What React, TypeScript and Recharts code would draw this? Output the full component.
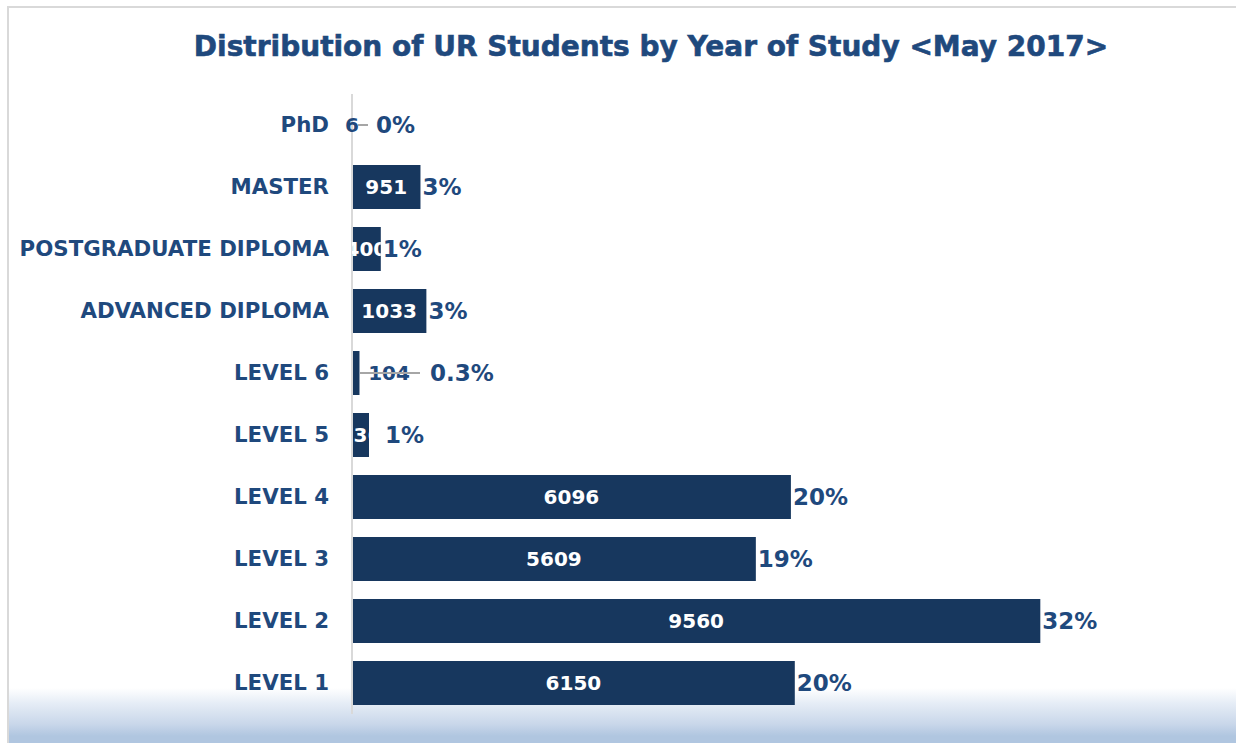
import React from "react";
import { BarChart, Bar, XAxis, YAxis, LabelList } from "recharts";

const categories = ["PhD", "MASTER", "POSTGRADUATE DIPLOMA", "ADVANCED DIPLOMA", "LEVEL 6", "LEVEL 5", "LEVEL 4", "LEVEL 3", "LEVEL 2", "LEVEL 1"];
const students = [6, 951, 400, 1033, 104, 236, 6096, 5609, 9560, 6150];
const shares = ["0%", "3%", "1%", "3%", "0.3%", "1%", "20%", "19%", "32%", "20%"];

const data = categories.map((name, i) => ({ name, students: students[i], share: shares[i] }));

const TEXT = "#1F497D";
const BAR = "#17375E";
const FONT = "'DejaVu Sans', 'Liberation Sans', Arial, sans-serif";

// manual label placements (layout only)
const valueLayout: Record<string, { dx: number; lead: [number, number] }> = {
  PhD: { dx: 0, lead: [6, 16] },
  "LEVEL 6": { dx: 37, lead: [8, 68] },
};
const shareLayout: Record<string, number> = { PhD: 24, "LEVEL 6": 78, "LEVEL 5": 33 };

const Tick = (props: any) => {
  const { x, y, payload } = props;
  return (
    <text x={x - 15} y={y} dy={7} textAnchor="end" fill={TEXT} fontFamily={FONT} fontWeight="bold" fontSize={21.3}>
      {payload.value}
    </text>
  );
};

const ValueLabel = (props: any) => {
  const { x, y, width, height, value, index } = props;
  const name = categories[index];
  const cy = y + height / 2;
  const moved = valueLayout[name];
  if (moved) {
    return (
      <g>
        <text x={x + moved.dx} y={cy} dy={7} textAnchor="middle" fill={TEXT} fontFamily={FONT} fontWeight="bold" fontSize={20}>
          {value}
        </text>
        <line x1={x + moved.lead[0]} x2={x + moved.lead[1]} y1={cy} y2={cy} stroke="#a6a6a6" strokeWidth={2} />
      </g>
    );
  }
  const id = `clip-bar-${index}`;
  return (
    <g>
      <defs>
        <clipPath id={id}>
          <rect x={x} y={y} width={width} height={height} />
        </clipPath>
      </defs>
      <text clipPath={`url(#${id})`} x={x + width / 2} y={cy} dy={7} textAnchor="middle" fill="#ffffff" fontFamily={FONT} fontWeight="bold" fontSize={20}>
        {value}
      </text>
    </g>
  );
};

const ShareLabel = (props: any) => {
  const { x, y, width, height, index } = props;
  const name = categories[index];
  const cy = y + height / 2;
  const off = shareLayout[name];
  const tx = off !== undefined ? x + off : x + width + 2;
  return (
    <text x={tx} y={cy} dy={8} textAnchor="start" fill={TEXT} fontFamily={FONT} fontWeight="bold" fontSize={23}>
      {shares[index]}
    </text>
  );
};

export default function App() {
  return (
    <div style={{ position: "absolute", left: 0, top: 0, width: 1236, height: 743, background: "#ffffff", overflow: "hidden" }}>
      <div style={{ position: "absolute", left: 7, top: 6, width: 1240, height: 750, border: "2px solid #d9d9d9", boxSizing: "border-box" }} />
      <div
        style={{
          position: "absolute",
          left: 9,
          top: 688,
          width: 1236,
          height: 60,
          background: "linear-gradient(to bottom, #ffffff 0%, #e6edf6 25%, #c9d7ea 60%, #b0c6e0 80%, #b0c6e0 100%)",
        }}
      />
      <div
        style={{
          position: "absolute",
          left: 0,
          top: 30,
          width: 1302,
          textAlign: "center",
          fontFamily: FONT,
          fontWeight: "bold",
          fontSize: 28,
          lineHeight: "34px",
          color: TEXT,
          whiteSpace: "nowrap",
          WebkitTextStroke: "0.6px " + TEXT,
        }}
      >
        Distribution of UR Students by Year of Study &lt;May 2017&gt;
      </div>
      <div style={{ position: "absolute", left: 0, top: 0 }}>
        <BarChart width={1236} height={743} data={data} layout="vertical" margin={{ top: 94, right: 20, bottom: 29, left: 0 }}>
          <XAxis type="number" hide domain={[0, 12000]} />
          <YAxis
            type="category"
            dataKey="name"
            width={352}
            axisLine={{ stroke: "#d9d9d9", strokeWidth: 2 }}
            tickLine={false}
            tick={<Tick />}
            interval={0}
          />
          <Bar dataKey="students" fill={BAR} barSize={44} isAnimationActive={false}>
            <LabelList dataKey="students" content={<ValueLabel />} />
            <LabelList dataKey="share" content={<ShareLabel />} />
          </Bar>
        </BarChart>
      </div>
    </div>
  );
}
